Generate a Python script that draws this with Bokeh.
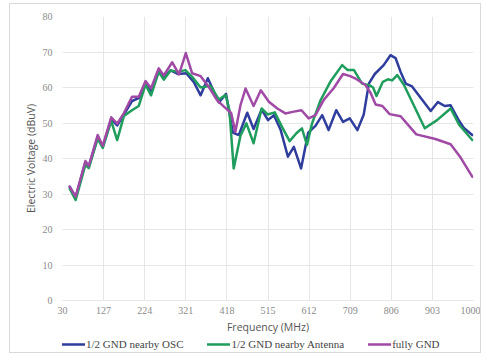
from bokeh.plotting import figure
from bokeh.layouts import column
from bokeh.models import FixedTicker, Legend, LegendItem, Range1d
from bokeh.embed import file_html
from bokeh.resources import INLINE

# Measured emission levels (dBuV) vs frequency (MHz) for three grounding variants
osc_freq = [47, 61, 84, 92, 113, 125, 145, 159, 175, 194, 210, 226, 239, 257, 269,
            285, 303, 322, 340, 356, 373, 399, 416, 432, 446, 466, 481, 500, 515,
            529, 545, 562, 576, 593, 610, 627, 643, 658, 676, 692, 708, 726, 741,
            753, 767, 788, 804, 816, 828, 840, 855, 877, 899, 916, 932, 946, 964,
            978, 997]
osc_level = [32.1, 29.0, 38.9, 37.7, 46.0, 43.3, 51.0, 49.3, 52.4, 56.2, 57.0, 61.2,
             59.0, 64.5, 62.8, 64.8, 63.8, 64.0, 61.5, 57.8, 62.6, 55.8, 58.2, 47.3,
             46.6, 52.9, 48.3, 53.8, 50.8, 52.2, 48.0, 40.5, 43.3, 37.2, 47.3, 49.2,
             52.2, 48.0, 53.6, 50.3, 51.3, 48.0, 52.4, 61.1, 63.8, 66.3, 69.1, 68.3,
             64.4, 61.1, 60.3, 56.8, 53.4, 55.9, 54.8, 55.0, 51.0, 48.5, 46.6]

ant_freq = [47, 61, 84, 92, 113, 125, 145, 159, 175, 194, 210, 226, 239, 257, 269,
            285, 303, 320, 336, 356, 379, 399, 415, 424, 434, 450, 464, 481, 500,
            514, 531, 548, 566, 582, 595, 607, 619, 639, 662, 690, 703, 718, 737,
            755, 763, 771, 786, 798, 808, 820, 836, 859, 885, 914, 946, 966, 997]
ant_level = [31.5, 28.3, 38.2, 37.3, 45.6, 43.0, 50.6, 45.2, 52.0, 53.6, 54.8, 60.8,
             57.8, 64.4, 62.2, 64.8, 64.4, 64.9, 63.0, 60.0, 60.5, 56.6, 57.9, 53.5,
             37.2, 46.4, 49.9, 44.3, 54.1, 52.4, 53.0, 48.9, 44.9, 47.1, 48.5, 43.8,
             49.9, 56.4, 61.6, 66.3, 64.9, 64.9, 61.1, 60.6, 60.0, 57.6, 61.6, 62.3,
             62.0, 63.5, 60.7, 55.0, 48.5, 50.8, 54.1, 49.5, 45.2]

full_freq = [47, 61, 84, 92, 113, 125, 145, 159, 175, 194, 210, 226, 239, 257, 269,
             289, 305, 321, 336, 356, 375, 395, 411, 428, 438, 450, 462, 481, 498,
             517, 537, 556, 576, 594, 611, 627, 647, 670, 692, 709, 723, 745, 757,
             769, 785, 802, 828, 865, 910, 946, 970, 997]
full_level = [32.0, 29.3, 39.3, 37.9, 46.6, 43.6, 51.6, 49.8, 52.8, 57.4, 57.4, 61.8,
              59.8, 65.4, 63.4, 67.1, 63.7, 69.7, 64.0, 63.2, 60.2, 56.4, 54.6, 52.8,
              47.5, 55.0, 59.7, 54.8, 59.2, 56.0, 54.1, 52.7, 53.2, 53.6, 51.3, 52.2,
              56.6, 59.8, 63.8, 63.2, 62.4, 60.7, 58.5, 55.2, 54.8, 52.5, 51.9, 46.8,
              45.5, 44.0, 40.2, 34.9]

series_names = ["1/2 GND nearby OSC", "1/2 GND nearby Antenna", "fully GND"]
x_ticks = [30, 127, 224, 321, 418, 515, 612, 709, 806, 903, 1000]
y_ticks = [0, 10, 20, 30, 40, 50, 60, 70, 80]
series = [(osc_freq, osc_level), (ant_freq, ant_level), (full_freq, full_level)]

colors = ["#2f3d9c", "#1f9d5c", "#a04aa6"]
grid_color = "#e6e6e6"
tick_font = "Liberation Serif"
title_font = "Open Sans"
line_style = dict(line_width=2.5, line_join="round", line_cap="round")

# Main chart
p = figure(width=470, height=332, output_backend="svg", toolbar_location=None,
           x_range=Range1d(30, 1000), y_range=Range1d(0, 80),
           min_border_left=52, min_border_right=7, min_border_top=12,
           min_border_bottom=35)
p.outline_line_color = None
p.background_fill_color = "white"
p.border_fill_color = "white"

p.xaxis.ticker = FixedTicker(ticks=x_ticks)
p.yaxis.ticker = FixedTicker(ticks=y_ticks)
for ax in (p.xaxis, p.yaxis):
    ax.major_tick_line_color = None
    ax.minor_tick_line_color = None
    ax.major_label_text_font = tick_font
    ax.major_label_text_font_size = "10px"
    ax.major_label_text_color = "#8a8a8a"
    ax.axis_label_text_font = title_font
    ax.axis_label_text_font_size = "10.5px"
    ax.axis_label_text_font_style = "normal"
    ax.axis_label_text_color = "#555555"
p.xaxis.axis_line_color = grid_color
p.yaxis.axis_line_color = None
p.xaxis.axis_label = "Frequency (MHz)"
p.yaxis.axis_label = "Electric Voltage (dBuV)"
p.xaxis.major_label_standoff = 0
p.xaxis.axis_label_standoff = 3
p.yaxis.major_label_standoff = 4
p.yaxis.axis_label_standoff = 2

p.xgrid.ticker = FixedTicker(ticks=x_ticks)
p.ygrid.ticker = FixedTicker(ticks=y_ticks)
p.xgrid.grid_line_color = grid_color
p.ygrid.grid_line_color = grid_color

for (xs, ys), c in zip(series, colors):
    p.line(xs, ys, line_color=c, **line_style)

# Legend strip underneath the chart; its own lines sit outside its view
lg = figure(width=470, height=16, output_backend="svg", toolbar_location=None,
            min_border=0, x_axis_type=None, y_axis_type=None,
            x_range=Range1d(0, 1), y_range=Range1d(-1, 0))
lg.outline_line_color = None
lg.xgrid.visible = False
lg.ygrid.visible = False
swatches = [lg.line(xs, ys, line_color=c, **line_style) for (xs, ys), c in zip(series, colors)]
legend = Legend(items=[LegendItem(label=n, renderers=[r]) for n, r in zip(series_names, swatches)],
                orientation="horizontal", location=(0, 1),
                label_text_font=tick_font, label_text_font_size="11px",
                label_text_color="#444444", glyph_width=23, glyph_height=14,
                label_height=14, label_standoff=1, spacing=24, padding=0, margin=0,
                border_line_color=None, background_fill_alpha=0)
lg.add_layout(legend, "center")

layout = column(p, lg, spacing=0, margin=(3, 0, 0, 9),
                styles={"border": "1px solid #d9d9d9"})

open("out.html", "w").write(file_html(layout, INLINE))
